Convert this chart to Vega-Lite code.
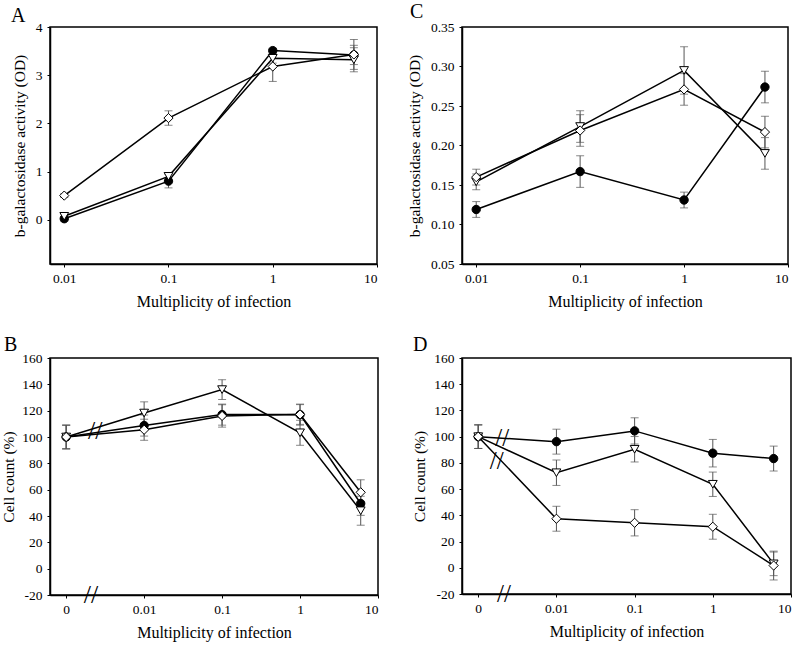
{
  "$schema": "https://vega.github.io/schema/vega-lite/v6.json",
  "background": "white",
  "padding": {"left": 0, "top": 0, "right": 5, "bottom": 5},
  "config": {
    "font": "Liberation Serif",
    "view": {"stroke": "black", "strokeWidth": 1.5},
    "axis": {"grid": false, "domainColor": "black", "domainWidth": 1.5, "tickColor": "black", "tickSize": 3, "labelFont": "Liberation Serif", "labelFontSize": 13.5, "labelColor": "black", "labelOverlap": false, "titleFont": "Liberation Serif", "titleFontWeight": "normal", "titleColor": "black"},
    "axisX": {"labelPadding": 4, "titleFontSize": 16, "titlePadding": 9},
    "axisY": {"labelPadding": 5, "titleFontSize": 15.5, "titleBaseline": "middle"},
    "title": {"font": "Liberation Serif", "fontSize": 20, "fontWeight": "normal", "anchor": "start", "color": "black", "frame": "group"}
  },
  "datasets": {
    "main": [
      {"panel": "A", "series": "circle", "moi": 0.01, "y": 0.02, "err": 0.05},
      {"panel": "A", "series": "circle", "moi": 0.1, "y": 0.80, "err": 0.14},
      {"panel": "A", "series": "circle", "moi": 1, "y": 3.51, "err": 0.05},
      {"panel": "A", "series": "circle", "moi": 6, "y": 3.42, "err": 0.2},
      {"panel": "A", "series": "triangle", "moi": 0.01, "y": 0.07, "err": 0.05},
      {"panel": "A", "series": "triangle", "moi": 0.1, "y": 0.90, "err": 0.08},
      {"panel": "A", "series": "triangle", "moi": 1, "y": 3.35, "err": 0.1},
      {"panel": "A", "series": "triangle", "moi": 6, "y": 3.32, "err": 0.25},
      {"panel": "A", "series": "diamond", "moi": 0.01, "y": 0.50, "err": 0.04},
      {"panel": "A", "series": "diamond", "moi": 0.1, "y": 2.11, "err": 0.15},
      {"panel": "A", "series": "diamond", "moi": 1, "y": 3.18, "err": 0.31},
      {"panel": "A", "series": "diamond", "moi": 6, "y": 3.43, "err": 0.31},
      {"panel": "C", "series": "circle", "moi": 0.01, "y": 0.119, "err": 0.01},
      {"panel": "C", "series": "circle", "moi": 0.1, "y": 0.167, "err": 0.02},
      {"panel": "C", "series": "circle", "moi": 1, "y": 0.131, "err": 0.01},
      {"panel": "C", "series": "circle", "moi": 6, "y": 0.274, "err": 0.02},
      {"panel": "C", "series": "triangle", "moi": 0.01, "y": 0.154, "err": 0.01},
      {"panel": "C", "series": "triangle", "moi": 0.1, "y": 0.224, "err": 0.02},
      {"panel": "C", "series": "triangle", "moi": 1, "y": 0.295, "err": 0.03},
      {"panel": "C", "series": "triangle", "moi": 6, "y": 0.190, "err": 0.02},
      {"panel": "C", "series": "diamond", "moi": 0.01, "y": 0.160, "err": 0.01},
      {"panel": "C", "series": "diamond", "moi": 0.1, "y": 0.219, "err": 0.02},
      {"panel": "C", "series": "diamond", "moi": 1, "y": 0.271, "err": 0.02},
      {"panel": "C", "series": "diamond", "moi": 6, "y": 0.217, "err": 0.02},
      {"panel": "B", "series": "circle", "moi": 0, "y": 100, "err": 9},
      {"panel": "B", "series": "circle", "moi": 0.01, "y": 108.7, "err": 8},
      {"panel": "B", "series": "circle", "moi": 0.1, "y": 117, "err": 8},
      {"panel": "B", "series": "circle", "moi": 1, "y": 117, "err": 8},
      {"panel": "B", "series": "circle", "moi": 6, "y": 49.5, "err": 9},
      {"panel": "B", "series": "triangle", "moi": 0, "y": 100, "err": 9},
      {"panel": "B", "series": "triangle", "moi": 0.01, "y": 118.2, "err": 8.5},
      {"panel": "B", "series": "triangle", "moi": 0.1, "y": 136, "err": 7.5},
      {"panel": "B", "series": "triangle", "moi": 1, "y": 103.2, "err": 9.5},
      {"panel": "B", "series": "triangle", "moi": 6, "y": 44, "err": 11},
      {"panel": "B", "series": "diamond", "moi": 0, "y": 100, "err": 9},
      {"panel": "B", "series": "diamond", "moi": 0.01, "y": 105.5, "err": 8},
      {"panel": "B", "series": "diamond", "moi": 0.1, "y": 116, "err": 8.5},
      {"panel": "B", "series": "diamond", "moi": 1, "y": 117.1, "err": 7.5},
      {"panel": "B", "series": "diamond", "moi": 6, "y": 58, "err": 9.5},
      {"panel": "D", "series": "circle", "moi": 0, "y": 100, "err": 9},
      {"panel": "D", "series": "circle", "moi": 0.01, "y": 96.2, "err": 9.5},
      {"panel": "D", "series": "circle", "moi": 0.1, "y": 104.4, "err": 10},
      {"panel": "D", "series": "circle", "moi": 1, "y": 87.4, "err": 10.5},
      {"panel": "D", "series": "circle", "moi": 6, "y": 83.3, "err": 9.5},
      {"panel": "D", "series": "triangle", "moi": 0, "y": 100, "err": 9},
      {"panel": "D", "series": "triangle", "moi": 0.01, "y": 72.5, "err": 9.7},
      {"panel": "D", "series": "triangle", "moi": 0.1, "y": 90.4, "err": 9.7},
      {"panel": "D", "series": "triangle", "moi": 1, "y": 63.7, "err": 9.3},
      {"panel": "D", "series": "triangle", "moi": 6, "y": 3, "err": 9},
      {"panel": "D", "series": "diamond", "moi": 0, "y": 100, "err": 9},
      {"panel": "D", "series": "diamond", "moi": 0.01, "y": 37.4, "err": 9.5},
      {"panel": "D", "series": "diamond", "moi": 0.1, "y": 34.3, "err": 10},
      {"panel": "D", "series": "diamond", "moi": 1, "y": 31.3, "err": 9.5},
      {"panel": "D", "series": "diamond", "moi": 6, "y": 1.7, "err": 11}
    ],
    "breaks": [
      {"panel": "B", "xpos": 0.00236, "y": 104.5},
      {"panel": "B", "xpos": 0.00208, "y": -20},
      {"panel": "D", "xpos": 0.00203, "y": 99.3},
      {"panel": "D", "xpos": 0.00172, "y": 81.5},
      {"panel": "D", "xpos": 0.00213, "y": -20}
    ]
  },
  "columns": 2,
  "bounds": "flush",
  "spacing": {"row": 94, "column": 84},
  "concat": [
    {
      "width": 327, "height": 237,
      "title": {"text": "A", "dx": -39, "offset": -5.5},
      "data": {"name": "main"},
      "transform": [{"filter": "datum.panel == 'A'"}, {"calculate": "datum.moi == 0 ? 0.001 : datum.moi", "as": "xpos"}],
      "encoding": {
        "x": {"field": "xpos", "type": "quantitative", "scale": {"type": "log", "domain": [0.0073, 10], "nice": false}, "axis": {"values": [0.01, 0.1, 1, 10], "labelExpr": "toString(datum.value)", "title": "Multiplicity of infection"}},
        "y": {"field": "y", "type": "quantitative", "scale": {"domain": [-0.92, 4], "nice": false, "zero": false}, "axis": {"values": [0, 1, 2, 3, 4], "labelOverlap": false, "title": "b-galactosidase activity (OD)", "titleX": -31}}
      },
      "layer": [
        {"mark": {"type": "errorbar", "ticks": true, "size": 8, "thickness": 1, "color": "#555"}, "encoding": {"yError": {"field": "err"}}},
        {"mark": {"type": "line", "color": "black", "strokeWidth": 1.5}, "encoding": {"detail": {"field": "series"}, "order": {"field": "xpos"}}},
        {"mark": {"type": "point", "filled": true, "stroke": "black", "strokeWidth": 1, "opacity": 1},
         "encoding": {
           "shape": {"field": "series", "type": "nominal", "scale": {"domain": ["circle", "triangle", "diamond"], "range": ["circle", "triangle-down", "diamond"]}, "legend": null},
           "fill": {"field": "series", "type": "nominal", "scale": {"domain": ["circle", "triangle", "diamond"], "range": ["black", "white", "white"]}, "legend": null},
           "size": {"field": "series", "type": "nominal", "scale": {"domain": ["circle", "triangle", "diamond"], "range": [70, 85, 110]}, "legend": null}
         }}
      ]
    },
    {
      "width": 326, "height": 237,
      "title": {"text": "C", "dx": -52, "offset": -1.5},
      "data": {"name": "main"},
      "transform": [{"filter": "datum.panel == 'C'"}, {"calculate": "datum.moi == 0 ? 0.001 : datum.moi", "as": "xpos"}],
      "encoding": {
        "x": {"field": "xpos", "type": "quantitative", "scale": {"type": "log", "domain": [0.0073, 10], "nice": false}, "axis": {"values": [0.01, 0.1, 1, 10], "labelExpr": "toString(datum.value)", "title": "Multiplicity of infection"}},
        "y": {"field": "y", "type": "quantitative", "scale": {"domain": [0.05, 0.35], "nice": false, "zero": false}, "axis": {"values": [0.05, 0.1, 0.15, 0.2, 0.25, 0.3, 0.35], "labelOverlap": false, "format": ".2f", "title": "b-galactosidase activity (OD)", "titleX": -48}}
      },
      "layer": [
        {"mark": {"type": "errorbar", "ticks": true, "size": 8, "thickness": 1, "color": "#555"}, "encoding": {"yError": {"field": "err"}}},
        {"mark": {"type": "line", "color": "black", "strokeWidth": 1.5}, "encoding": {"detail": {"field": "series"}, "order": {"field": "xpos"}}},
        {"mark": {"type": "point", "filled": true, "stroke": "black", "strokeWidth": 1, "opacity": 1},
         "encoding": {
           "shape": {"field": "series", "type": "nominal", "scale": {"domain": ["circle", "triangle", "diamond"], "range": ["circle", "triangle-down", "diamond"]}, "legend": null},
           "fill": {"field": "series", "type": "nominal", "scale": {"domain": ["circle", "triangle", "diamond"], "range": ["black", "white", "white"]}, "legend": null},
           "size": {"field": "series", "type": "nominal", "scale": {"domain": ["circle", "triangle", "diamond"], "range": [70, 85, 110]}, "legend": null}
         }}
      ]
    },
    {
      "width": 328, "height": 237,
      "title": {"text": "B", "dx": -46, "offset": -4},
      "encoding": {
        "x": {"field": "xpos", "type": "quantitative", "scale": {"type": "log", "domain": [0.00062, 10], "nice": false}, "axis": {"values": [0.001, 0.01, 0.1, 1, 10], "labelExpr": "datum.value < 0.005 ? '0' : toString(datum.value)", "title": "Multiplicity of infection"}},
        "y": {"field": "y", "type": "quantitative", "scale": {"domain": [-20, 160], "nice": false, "zero": false}, "axis": {"values": [-20, 0, 20, 40, 60, 80, 100, 120, 140, 160], "labelOverlap": false, "labelExpr": "datum.value < 0 ? '-' + toString(-datum.value) : toString(datum.value)", "title": "Cell count (%)", "titleX": -42}}
      },
      "layer": [
        {"data": {"name": "main"},
         "transform": [{"filter": "datum.panel == 'B'"}, {"calculate": "datum.moi == 0 ? 0.001 : datum.moi", "as": "xpos"}],
         "mark": {"type": "errorbar", "ticks": true, "size": 8, "thickness": 1, "color": "#555"},
         "encoding": {"yError": {"field": "err"}}},
        {"data": {"name": "main"},
         "transform": [{"filter": "datum.panel == 'B'"}, {"calculate": "datum.moi == 0 ? 0.001 : datum.moi", "as": "xpos"}],
         "mark": {"type": "line", "color": "black", "strokeWidth": 1.5},
         "encoding": {"detail": {"field": "series"}, "order": {"field": "xpos"}}},
        {"data": {"name": "breaks"},
         "transform": [{"filter": "datum.panel == 'B'"}],
         "mark": {"type": "text", "text": "//", "font": "Liberation Serif", "fontSize": 26, "align": "center", "baseline": "middle", "color": "black"}},
        {"data": {"name": "main"},
         "transform": [{"filter": "datum.panel == 'B'"}, {"calculate": "datum.moi == 0 ? 0.001 : datum.moi", "as": "xpos"}],
         "mark": {"type": "point", "filled": true, "stroke": "black", "strokeWidth": 1, "opacity": 1},
         "encoding": {
           "shape": {"field": "series", "type": "nominal", "scale": {"domain": ["circle", "triangle", "diamond"], "range": ["circle", "triangle-down", "diamond"]}, "legend": null},
           "fill": {"field": "series", "type": "nominal", "scale": {"domain": ["circle", "triangle", "diamond"], "range": ["black", "white", "white"]}, "legend": null},
           "size": {"field": "series", "type": "nominal", "scale": {"domain": ["circle", "triangle", "diamond"], "range": [70, 85, 110]}, "legend": null}
         }}
      ]
    },
    {
      "width": 329, "height": 236,
      "title": {"text": "D", "dx": -49, "offset": -4},
      "encoding": {
        "x": {"field": "xpos", "type": "quantitative", "scale": {"type": "log", "domain": [0.00062, 10], "nice": false}, "axis": {"values": [0.001, 0.01, 0.1, 1, 10], "labelExpr": "datum.value < 0.005 ? '0' : toString(datum.value)", "title": "Multiplicity of infection"}},
        "y": {"field": "y", "type": "quantitative", "scale": {"domain": [-20, 160], "nice": false, "zero": false}, "axis": {"values": [-20, 0, 20, 40, 60, 80, 100, 120, 140, 160], "labelOverlap": false, "labelExpr": "datum.value < 0 ? '-' + toString(-datum.value) : toString(datum.value)", "title": "Cell count (%)", "titleX": -43}}
      },
      "layer": [
        {"data": {"name": "main"},
         "transform": [{"filter": "datum.panel == 'D'"}, {"calculate": "datum.moi == 0 ? 0.001 : datum.moi", "as": "xpos"}],
         "mark": {"type": "errorbar", "ticks": true, "size": 8, "thickness": 1, "color": "#555"},
         "encoding": {"yError": {"field": "err"}}},
        {"data": {"name": "main"},
         "transform": [{"filter": "datum.panel == 'D'"}, {"calculate": "datum.moi == 0 ? 0.001 : datum.moi", "as": "xpos"}],
         "mark": {"type": "line", "color": "black", "strokeWidth": 1.5},
         "encoding": {"detail": {"field": "series"}, "order": {"field": "xpos"}}},
        {"data": {"name": "breaks"},
         "transform": [{"filter": "datum.panel == 'D'"}],
         "mark": {"type": "text", "text": "//", "font": "Liberation Serif", "fontSize": 25, "align": "center", "baseline": "middle", "color": "black"}},
        {"data": {"name": "main"},
         "transform": [{"filter": "datum.panel == 'D'"}, {"calculate": "datum.moi == 0 ? 0.001 : datum.moi", "as": "xpos"}],
         "mark": {"type": "point", "filled": true, "stroke": "black", "strokeWidth": 1, "opacity": 1},
         "encoding": {
           "shape": {"field": "series", "type": "nominal", "scale": {"domain": ["circle", "triangle", "diamond"], "range": ["circle", "triangle-down", "diamond"]}, "legend": null},
           "fill": {"field": "series", "type": "nominal", "scale": {"domain": ["circle", "triangle", "diamond"], "range": ["black", "white", "white"]}, "legend": null},
           "size": {"field": "series", "type": "nominal", "scale": {"domain": ["circle", "triangle", "diamond"], "range": [70, 85, 110]}, "legend": null}
         }}
      ]
    }
  ]
}
